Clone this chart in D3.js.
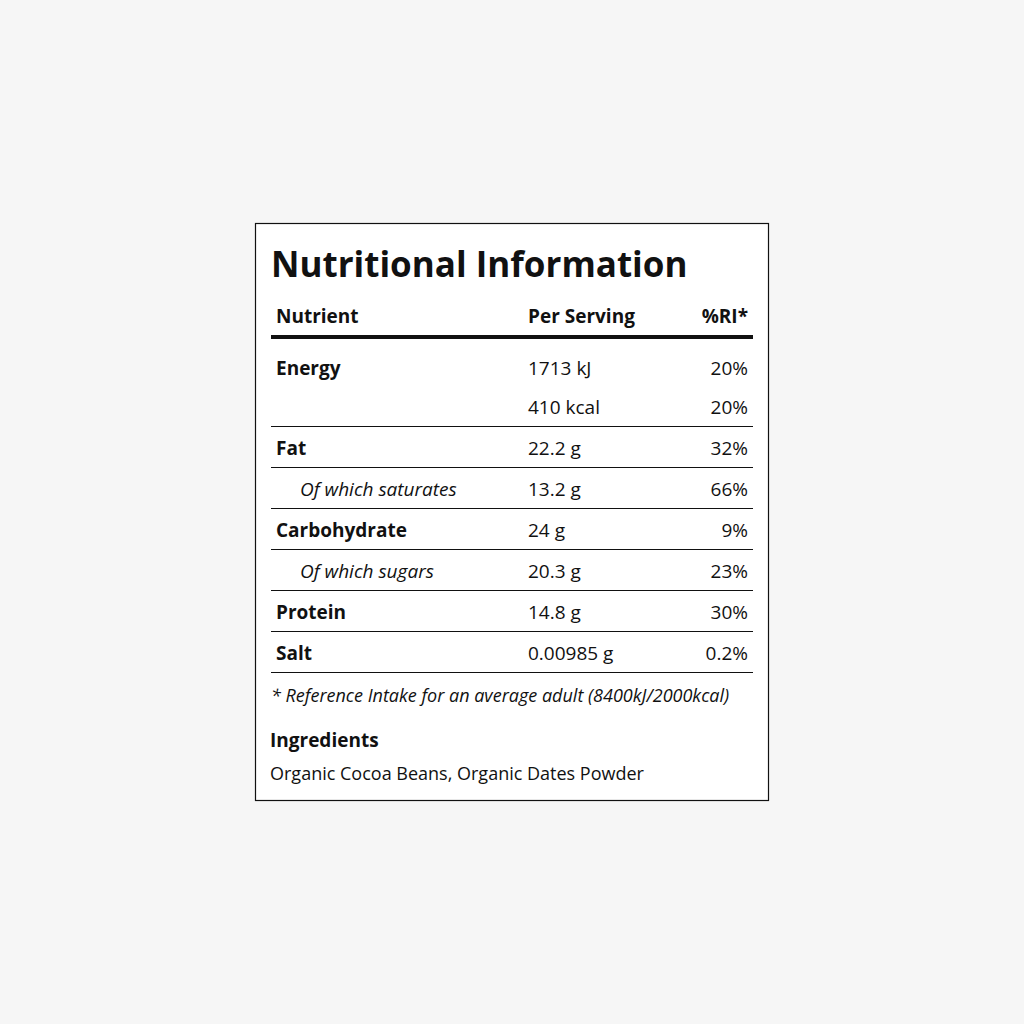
<!DOCTYPE html>
<html><head><meta charset="utf-8">
<script src="https://cdn.jsdelivr.net/npm/d3@7"></script>
<style>body{margin:0;background:#f6f6f6;font-family:"Open Sans",sans-serif;}</style>
</head><body>
<script>
const nutrients = ["Energy", "", "Fat", "Of which saturates", "Carbohydrate", "Of which sugars", "Protein", "Salt"];
const perServing = ["1713 kJ", "410 kcal", "22.2 g", "13.2 g", "24 g", "20.3 g", "14.8 g", "0.00985 g"];
const ri = ["20%", "20%", "32%", "66%", "9%", "23%", "30%", "0.2%"];
const subRow = [false, false, false, true, false, true, false, false];
const lineAfter = [false, true, true, true, true, true, true, true];
const headers = ["Nutrient", "Per Serving", "%RI*"];
const footnote = "* Reference Intake for an average adult (8400kJ/2000kcal)";
const ingredientsTitle = "Ingredients";
const ingredients = "Organic Cocoa Beans, Organic Dates Powder";

const svg = d3.select("body").append("svg").attr("width", 1024).attr("height", 1024);
svg.append("rect").attr("x", 255.5).attr("y", 223.5).attr("width", 513).attr("height", 577)
  .attr("fill", "#fff").attr("stroke", "#111").attr("stroke-width", 1.2);

svg.append("text").attr("x", 271).attr("y", 277).attr("font-size", 35).attr("font-weight", 700)
  .attr("fill", "#111").text("Nutritional Information");

const L = 271, R = 753;
const y = d3.scaleLinear().domain([0, 1]).range([375, 416]); // baseline per row
const cols = [276, 528, 748];

const hdr = svg.append("g").attr("font-size", 19).attr("font-weight", 700).attr("fill", "#111");
headers.forEach((h, i) => hdr.append("text").attr("x", cols[i]).attr("y", 323)
  .attr("text-anchor", i === 2 ? "end" : "start").text(h));
svg.append("rect").attr("x", L).attr("y", 335).attr("width", R - L).attr("height", 4).attr("fill", "#111");

const rows = svg.append("g").attr("font-size", 19).attr("fill", "#111");
nutrients.forEach((n, i) => {
  const by = i === 0 ? 375 : y(i) - 2 + (i > 1 ? 0 : 0);
  const base = i === 0 ? 375 : 414 + (i - 1) * 41;
  rows.append("text").attr("x", subRow[i] ? 300 : 276).attr("y", base)
    .attr("font-weight", subRow[i] ? 400 : 700).attr("font-style", subRow[i] ? "italic" : "normal").text(n);
  rows.append("text").attr("x", cols[1]).attr("y", base).text(perServing[i]);
  rows.append("text").attr("x", cols[2]).attr("y", base).attr("text-anchor", "end").text(ri[i]);
  if (lineAfter[i]) rows.append("line").attr("x1", L).attr("x2", R)
    .attr("y1", base + 12.5).attr("y2", base + 12.5).attr("stroke", "#111").attr("stroke-width", 1.2);
});

svg.append("text").attr("x", 271).attr("y", 702).attr("font-size", 18).attr("font-style", "italic")
  .attr("fill", "#111").text(footnote);
svg.append("text").attr("x", 270).attr("y", 747).attr("font-size", 19).attr("font-weight", 700)
  .attr("fill", "#111").text(ingredientsTitle);
svg.append("text").attr("x", 270).attr("y", 780).attr("font-size", 18)
  .attr("fill", "#111").text(ingredients);
</script>
</body></html>
